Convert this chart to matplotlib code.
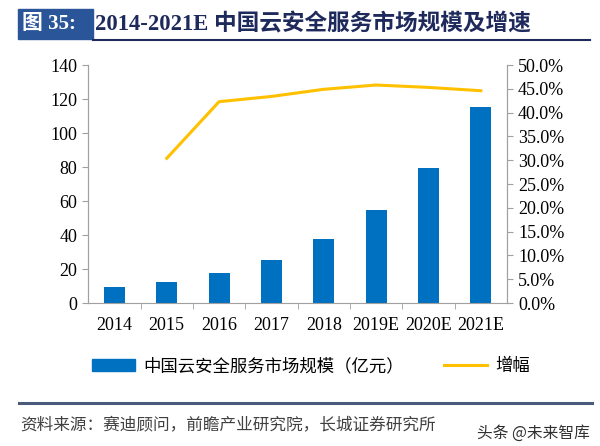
import matplotlib.pyplot as plt
from matplotlib.patches import Rectangle
from matplotlib.lines import Line2D
from matplotlib.ticker import FuncFormatter, MultipleLocator

plt.rcParams['font.family'] = ['Liberation Serif', 'Noto Sans CJK SC', 'DejaVu Sans']

years = ['2014', '2015', '2016', '2017', '2018', '2019E', '2020E', '2021E']
market_size = [9.2, 12.2, 17.8, 25.5, 37.5, 54.7, 79.6, 115.5]
growth = [None, 30.4, 42.3, 43.4, 44.9, 45.8, 45.3, 44.6]

bar_color = '#0070C0'
line_color = '#FFC000'
navy = '#1F2A5C'
box_blue = '#2A5598'

fig = plt.figure(figsize=(6, 4.46), dpi=100)
ax = fig.add_axes([0.147, 0.3206, 0.698, 0.5336])
ax2 = ax.twinx()

x = list(range(len(years)))
ax.bar(x, market_size, width=0.4, color=bar_color, zorder=2)
gx = [i for i, g in zip(x, growth) if g is not None]
gy = [g for g in growth if g is not None]
ax2.plot(gx, gy, color=line_color, lw=2.2, zorder=3)

ax.set_xlim(-0.5, len(years) - 0.5)
ax.set_ylim(0, 140)
ax.yaxis.set_major_locator(MultipleLocator(20))
ax2.set_ylim(0, 50)
ax2.yaxis.set_major_locator(MultipleLocator(5))
ax2.yaxis.set_major_formatter(FuncFormatter(lambda v, p: f'{v:.1f}%'))

ax.set_xticks(x)
ax.set_xticklabels(years)
ax.set_xticks([i + 0.5 for i in x[:-1]], minor=True)
ax.tick_params(axis='x', which='major', length=0, labelsize=13, pad=10)
ax.tick_params(axis='x', which='minor', length=4, color='#A0A0A0', direction='out')
ax.tick_params(axis='y', labelsize=13, length=4, color='#A0A0A0', pad=4)
ax2.tick_params(axis='y', labelsize=13, length=4, color='#A0A0A0', pad=4)

for a in (ax, ax2):
    a.spines['top'].set_visible(False)
    for s in ('left', 'right', 'bottom'):
        a.spines[s].set_color('#A0A0A0')
ax2.spines['bottom'].set_visible(False)

# legend
handles = [Rectangle((0, 0), 1, 1, color=bar_color),
           Line2D([0], [0], color=line_color, lw=2.2)]
fig.legend(handles, ['中国云安全服务市场规模（亿元）', '增幅'],
           loc='center', bbox_to_anchor=(0.518, 0.179), ncol=2, frameon=False,
           prop={'family': ['Noto Sans CJK SC'], 'size': 12.5},
           handlelength=2.5, columnspacing=2.3, handletextpad=0.45)

# title banner
fig.patches.append(Rectangle((0.030, 0.912), 0.125, 0.068, transform=fig.transFigure,
                             color=box_blue, zorder=1))
fig.text(0.037, 0.946, '图 35:', color='white', fontsize=15, fontweight='bold',
         va='center', family=['Liberation Serif', 'Noto Sans CJK SC'])
fig.text(0.159, 0.946, '2014-2021E 中国云安全服务市场规模及增速', color=navy,
         fontsize=16.3, fontweight='bold', va='center',
         family=['Liberation Serif', 'Noto Sans CJK SC'])
fig.add_artist(Line2D([0.155, 0.983], [0.911, 0.911], color=navy, lw=1.5,
                      transform=fig.transFigure))

# footer
fig.add_artist(Line2D([0.032, 0.987], [0.096, 0.096], color='#4A5A7A', lw=2.2,
                      transform=fig.transFigure))
fig.text(0.033, 0.047, '资料来源：赛迪顾问，前瞻产业研究院，长城证券研究所',
         color='#404040', fontsize=12, style='italic', va='center',
         family=['Noto Sans CJK SC'])
fig.text(0.795, 0.029, '头条 @未来智库', color='#303030', fontsize=11.3,
         va='center', family=['Noto Sans CJK SC'])

fig.savefig('out.png', dpi=100)
